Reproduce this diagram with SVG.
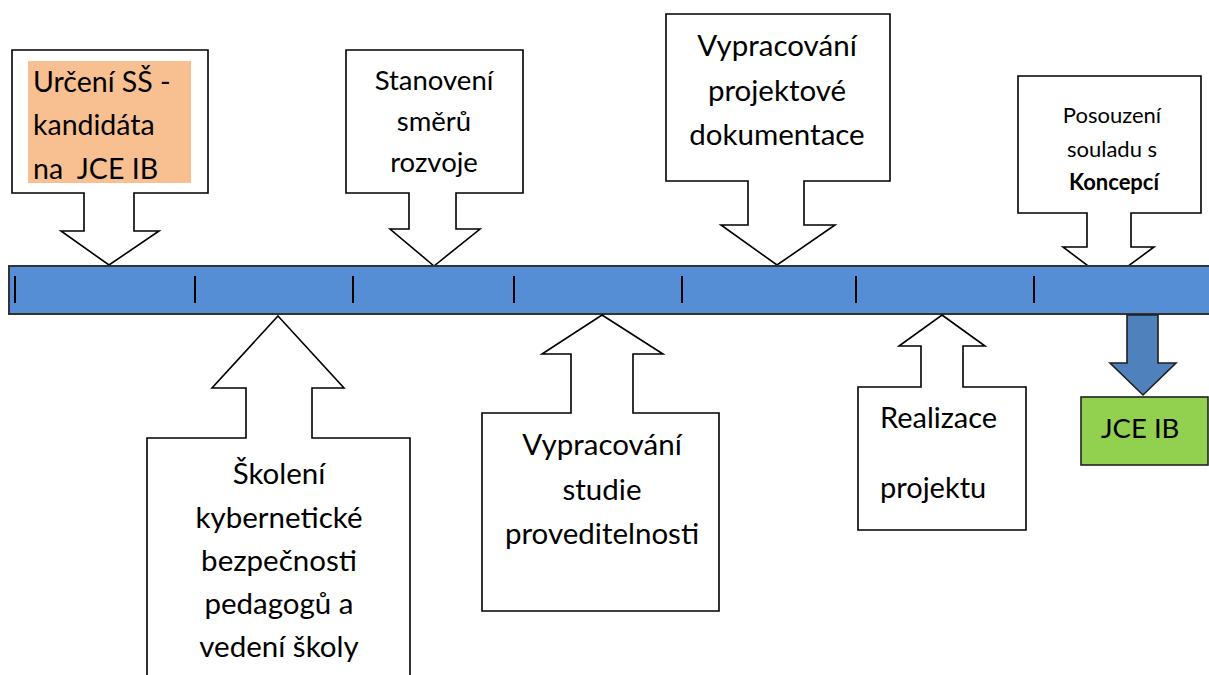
<svg xmlns="http://www.w3.org/2000/svg" width="1209" height="675" viewBox="0 0 1209 675">
<style>
.co{fill:#fff;stroke:#000;stroke-width:1.6;stroke-linejoin:miter}
.t{font-family:Lato,"Open Sans","Liberation Sans",sans-serif;font-size:29.5px;fill:#000}
.c{text-anchor:middle}
.s{font-size:22px}
.b{font-weight:bold}
</style>
<rect width="1209" height="675" fill="#fff"/>
<g id="n1">
<path class="co" d="M12,50 H208 V193 H134 V231 H159 L109,265 L61,231 H84 V193 H12 Z"/>
<rect x="28" y="61" width="163" height="122" fill="#F8C090"/>
<text class="t" x="33" y="92" style="font-size:28.5px">Určení SŠ -</text>
<text class="t" x="33" y="135" style="font-size:28.5px">kandidáta</text>
<text class="t" x="33" y="179" style="font-size:28.5px" xml:space="preserve">na  JCE IB</text>
</g>
<g id="n2">
<path class="co" d="M346,50 H523 V193 H456 V229 H480 L434,266 L390,229 H409 V193 H346 Z"/>
<text class="t c" x="434" y="90" style="font-size:27.5px">Stanovení</text>
<text class="t c" x="434" y="131" style="font-size:27.5px">směrů</text>
<text class="t c" x="434" y="172" style="font-size:27.5px">rozvoje</text>
</g>
<g id="n3">
<path class="co" d="M666,14 H890 V181 H804 V225 H835 L777,265 L721,225 H748 V181 H666 Z"/>
<text class="t c" x="777" y="56">Vypracování</text>
<text class="t c" x="777" y="101">projektové</text>
<text class="t c" x="777" y="145">dokumentace</text>
</g>
<g id="n4">
<path class="co" d="M1018,76 H1201 V213 H1131 V247 H1154 L1108,281 L1063,247 H1087 V213 H1018 Z"/>
<text class="t c s" x="1112" y="123">Posouzení</text>
<text class="t c s" x="1112" y="157">souladu s</text>
<text class="t c s b" x="1114" y="190">Koncepcí</text>
</g>
<g id="timeline">
<rect x="9" y="266" width="1210" height="48" fill="#558ED5" stroke="#333" stroke-width="2"/>
<g stroke="#000" stroke-width="2">
<line x1="15" y1="276" x2="15" y2="303"/>
<line x1="195" y1="276" x2="195" y2="303"/>
<line x1="353" y1="276" x2="353" y2="303"/>
<line x1="514" y1="276" x2="514" y2="303"/>
<line x1="682" y1="276" x2="682" y2="303"/>
<line x1="856" y1="276" x2="856" y2="303"/>
<line x1="1034" y1="276" x2="1034" y2="303"/>
</g>
</g>
<g id="n5">
<path class="co" d="M278,316 L344,388 H312 V438 H410 V690 H147 V438 H246 V388 H212 Z"/>
<text class="t c" x="279" y="484">Školení</text>
<text class="t c" x="279" y="528">kybernetické</text>
<text class="t c" x="279" y="571">bezpečnosti</text>
<text class="t c" x="279" y="614">pedagogů a</text>
<text class="t c" x="279" y="657">vedení školy</text>
</g>
<g id="n6">
<path class="co" d="M602,315 L663,354 H633 V413 H719 V611 H482 V413 H571 V354 H542 Z"/>
<text class="t c" x="602" y="455">Vypracování</text>
<text class="t c" x="602" y="500">studie</text>
<text class="t c" x="602" y="544">proveditelnosti</text>
</g>
<g id="n7">
<path class="co" d="M942,315 L985,346 H963 V387 H1026 V530 H858 V387 H921 V346 H899 Z"/>
<text class="t" x="880" y="428" style="font-size:29px">Realizace</text>
<text class="t" x="880" y="498" style="font-size:29px">projektu</text>
</g>
<g id="connectors">
<path d="M1127,315 H1158 V363 H1176 L1143,395 L1110,363 H1127 Z" fill="#4F81BD" stroke="#1F1F1F" stroke-width="1.6"/>
</g>
<g id="n8">
<rect x="1081" y="397" width="127" height="68" fill="#92D050" stroke="#222" stroke-width="1.6"/>
<text class="t" x="1101" y="438" style="font-size:27.5px">JCE IB</text>
</g>
</svg>
